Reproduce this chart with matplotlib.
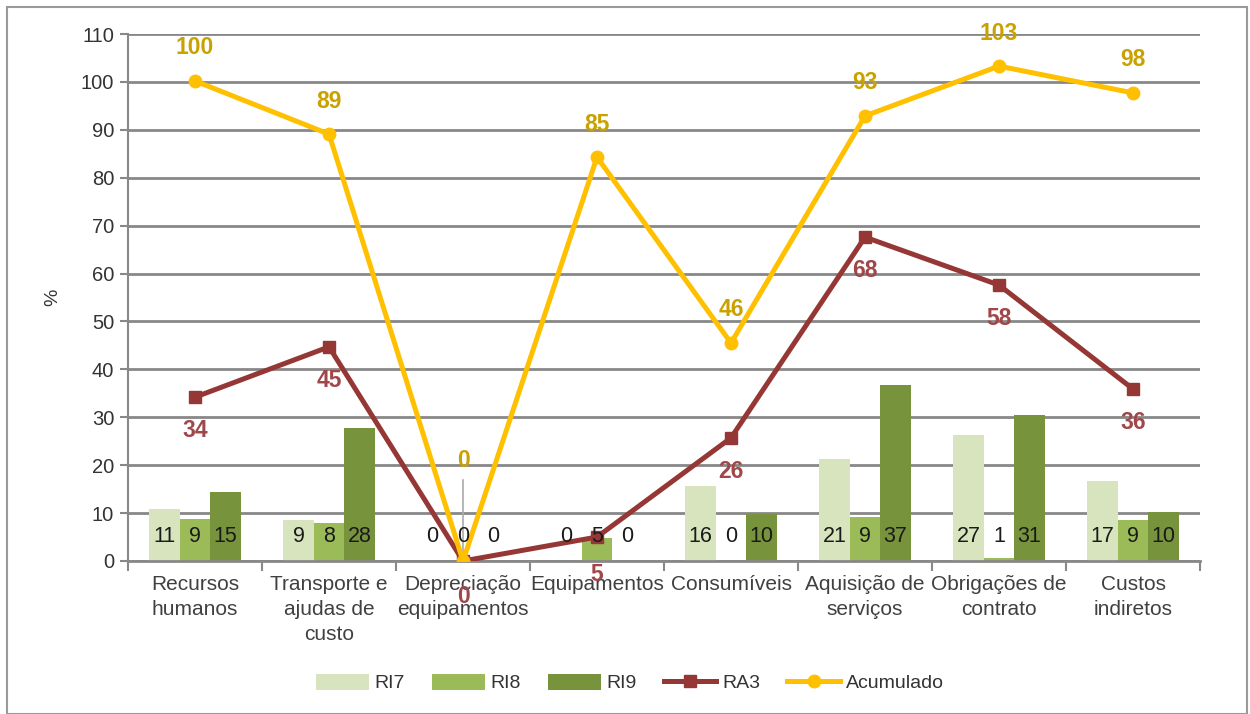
import numpy as np
import matplotlib
matplotlib.use("Agg")
import matplotlib.pyplot as plt
from matplotlib.patches import Rectangle

plt.rcParams["font.family"] = ["Liberation Sans", "DejaVu Sans"]

categories = ["Recursos\nhumanos", "Transporte e\najudas de\ncusto", "Depreciação\nequipamentos",
              "Equipamentos", "Consumíveis", "Aquisição de\nserviços", "Obrigações de\ncontrato",
              "Custos\nindiretos"]
ri7 = [10.9, 8.6, 0, 0, 15.7, 21.3, 26.3, 16.7]
ri8 = [8.7, 7.9, 0, 4.8, 0, 9.2, 0.6, 8.6]
ri9 = [14.3, 27.8, 0, 0, 9.8, 36.8, 30.5, 10.2]
ri7_lbl = [11, 9, 0, 0, 16, 21, 27, 17]
ri8_lbl = [9, 8, 0, 5, 0, 9, 1, 9]
ri9_lbl = [15, 28, 0, 0, 10, 37, 31, 10]
ra3 = [34.2, 44.7, 0, 5.0, 25.7, 67.6, 57.6, 35.9]
ra3_lbl = [34, 45, 0, 5, 26, 68, 58, 36]
acum = [100.2, 89.1, 0, 84.3, 45.5, 92.9, 103.3, 97.7]
acum_lbl = [100, 89, 0, 85, 46, 93, 103, 98]

C_RI7 = "#D7E4BD"
C_RI8 = "#9BBB59"
C_RI9 = "#77933C"
C_RA3 = "#953735"
C_ACU = "#FFC000"
C_ACU_TXT = "#C9A200"
C_RA3_TXT = "#A0474A"
GRID = "#888888"

fig = plt.figure(figsize=(12.5, 7.14), dpi=100)
ax = fig.add_axes([128 / 1250, 1 - 561 / 714, 1072 / 1250, 527 / 714])

x = np.arange(len(categories))
w = 0.227
b7 = ax.bar(x - w, ri7, w, color=C_RI7, label="RI7", zorder=2)
b8 = ax.bar(x, ri8, w, color=C_RI8, label="RI8", zorder=2)
b9 = ax.bar(x + w, ri9, w, color=C_RI9, label="RI9", zorder=2)

# bar value labels sit near the base
for off, lbls in [(-w, ri7_lbl), (0, ri8_lbl), (w, ri9_lbl)]:
    for xi, v in zip(x, lbls):
        ax.text(xi + off, 5.2, str(v), ha="center", va="center", fontsize=15.5,
                color="#1a1a1a", zorder=6)

l_ra3, = ax.plot(x, ra3, color=C_RA3, lw=3.6, marker="s", ms=9, label="RA3", zorder=4)
l_acu, = ax.plot(x, acum, color=C_ACU, lw=3.6, marker="o", ms=9, label="Acumulado", zorder=5)

for i, (xi, v, l) in enumerate(zip(x, ra3, ra3_lbl)):
    if i == 2:
        ax.text(xi, -7.5, str(l), ha="center", va="center", fontsize=16.5,
                fontweight="bold", color=C_RA3_TXT, zorder=6, clip_on=False)
    elif i == 3:
        ax.text(xi, v - 7.9, str(l), ha="center", va="center", fontsize=16.5,
                fontweight="bold", color=C_RA3_TXT, zorder=6, clip_on=False)
    else:
        ax.text(xi, v - 7.0, str(l), ha="center", va="center", fontsize=16.5,
                fontweight="bold", color=C_RA3_TXT, zorder=6)

for i, (xi, v, l) in enumerate(zip(x, acum, acum_lbl)):
    if i == 2:
        ax.text(xi, 20.9, str(l), ha="center", va="center", fontsize=16.5,
                fontweight="bold", color=C_ACU_TXT, zorder=6)
        ax.plot([xi, xi], [1, 17.0], color="#aaaaaa", lw=1.2, zorder=3)
    else:
        ax.text(xi, v + 6.9, str(l), ha="center", va="center", fontsize=16.5,
                fontweight="bold", color=C_ACU_TXT, zorder=6, clip_on=False)

ax.set_xlim(-0.5, len(categories) - 0.5)
ax.set_ylim(0, 110)
ax.set_yticks(np.arange(0, 111, 10))
ax.yaxis.grid(True, color=GRID, lw=2)
ax.set_axisbelow(True)
for s in ["top", "right"]:
    ax.spines[s].set_visible(False)
ax.spines["left"].set_color(GRID)
ax.spines["left"].set_linewidth(1.5)
ax.spines["bottom"].set_color(GRID)
ax.spines["bottom"].set_linewidth(2)
ax.tick_params(axis="y", length=6, width=1.5, color=GRID, labelsize=14.5, labelcolor="#333333", pad=4)

ax.set_xticks(x)
ax.set_xticklabels(categories, fontsize=15, color="#404040", linespacing=1.4)
ax.tick_params(axis="x", length=0, pad=10)
ax.set_xticks(np.arange(-0.5, len(categories), 1), minor=True)
ax.tick_params(axis="x", which="minor", length=7, width=1.5, color=GRID)

ax.set_ylabel("%", fontsize=14, color="#333333", labelpad=14)

fig.patches.append(Rectangle((7 / 1250, 0), 1240 / 1250, 1 - 7 / 714,
                             transform=fig.transFigure, fill=False,
                             edgecolor="#999999", lw=1.5))

fig.legend(handles=[b7, b8, b9, l_ra3, l_acu], loc="center",
           bbox_to_anchor=(630 / 1250, 1 - 683 / 714), ncol=5,
           frameon=False, fontsize=14, handlelength=2.7, handleheight=0.9,
           columnspacing=1.4, handletextpad=0.3, labelcolor="#333333")

fig.savefig("out.png", dpi=100)
